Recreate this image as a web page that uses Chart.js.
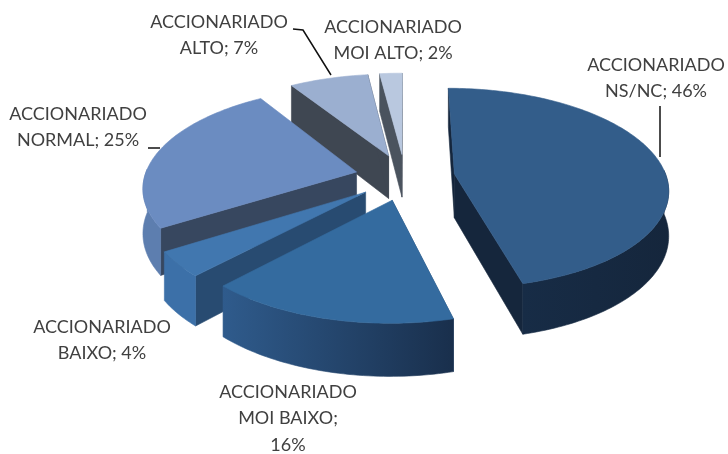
<!DOCTYPE html>
<html><head><meta charset="utf-8">
<style>html,body{margin:0;padding:0;background:#fff}#w{width:728px;height:454px}</style>
<script src="https://cdn.jsdelivr.net/npm/chart.js@4"></script>
</head><body><div id="w"><canvas id="c" width="728" height="454"></canvas></div>
<script>
const categories = ['ACCIONARIADO NS/NC','ACCIONARIADO MOI BAIXO','ACCIONARIADO BAIXO','ACCIONARIADO NORMAL','ACCIONARIADO ALTO','ACCIONARIADO MOI ALTO'];
const percentValues = [46,16,4,25,7,2];
const topColors = ['#335d8a','#346b9f','#4177af','#6b8cc1','#9bafd0','#b9c8df'];
const innerWallColors = ['#15263c','#2a4d73','#284b71','#37475f','#3f4752','#4a535e'];
const outerWallLeft = ['#172c46','#2f5b8c','#3c70a8','#5d7eaf','#7d92b0','#8ea0ba'];
const outerWallRight = ['#15263c','#192f4c','#3c70a8','#5d7eaf','#7d92b0','#8ea0ba'];
const labelLines = [['ACCIONARIADO','NS/NC; 46%'],['ACCIONARIADO','MOI BAIXO;','16%'],['ACCIONARIADO','BAIXO; 4%'],['ACCIONARIADO','NORMAL; 25%'],['ACCIONARIADO','ALTO; 7%'],['ACCIONARIADO','MOI ALTO; 2%']];
const labelCenters = [[656,65],[288,392],[102,327],[78,114],[219,22],[393,27]];
const labelRowHeight = 26.5;
const leaders = [[[660,106],[660,157]],null,null,[[148,148],[160,148]],[[293,29],[303,30],[331,75]],null];

const K = 0.465, P = 0.14, DEPTH = 44;
function project(cx, cy, x, y, h) {
  const s = 1 / (1 - P * y / 212);
  return [cx + x * s, cy + y * K * s + h * s];
}
function fillPoly(ctx, pts, col) {
  ctx.fillStyle = col; ctx.strokeStyle = col; ctx.lineWidth = 0.6;
  ctx.beginPath(); pts.forEach((p,i)=> i ? ctx.lineTo(p[0],p[1]) : ctx.moveTo(p[0],p[1]));
  ctx.closePath(); ctx.fill(); ctx.stroke();
}
const pie3d = {
  id: 'pie3d',
  beforeDatasetsDraw(chart) {
    const ctx = chart.ctx, meta = chart.getDatasetMeta(0);
    const items = meta.data.map((arc, i) => {
      const p = arc.getProps(['x','y','startAngle','endAngle','outerRadius']);
      const mid = (p.startAngle + p.endAngle) / 2, off = arc.options.offset;
      return {i, p, ax: Math.cos(mid)*off, ay: Math.sin(mid)*off};
    }).sort((a,b) => a.ay - b.ay);
    ctx.save();
    for (const it of items) {
      const {i, p, ax, ay} = it, R = p.outerRadius;
      const P2 = (x,y,h) => project(p.x, p.y, x, y, h);
      const rim = [], frontRim = [];
      const n = Math.max(4, Math.ceil((p.endAngle - p.startAngle) / 0.02));
      for (let j = 0; j <= n; j++) {
        const a = p.startAngle + (p.endAngle - p.startAngle) * j / n;
        const pt = [ax + Math.cos(a)*R, ay + Math.sin(a)*R];
        rim.push(pt);
        if (Math.sin(a) > -0.05) frontRim.push(pt);
      }
      const apex = [ax, ay];
      // straight cut walls that face the viewer
      [[rim[0], Math.sin(p.startAngle - Math.PI/2)], [rim[n], Math.sin(p.endAngle + Math.PI/2)]].forEach(([end, nrm]) => {
        if (nrm > -0.35) fillPoly(ctx, [P2(apex[0],apex[1],0),P2(end[0],end[1],0),P2(end[0],end[1],DEPTH),P2(apex[0],apex[1],DEPTH)], innerWallColors[i]);
      });
      // outer wall: only the part of the rim that faces the viewer
      if (frontRim.length > 1) {
        const wall = frontRim.map(r => P2(r[0],r[1],0)).concat(frontRim.slice().reverse().map(r => P2(r[0],r[1],DEPTH)));
        const xs = wall.map(w => w[0]);
        const g = ctx.createLinearGradient(Math.min(...xs),0,Math.max(...xs),0);
        g.addColorStop(0, outerWallLeft[i]); g.addColorStop(1, outerWallRight[i]);
        fillPoly(ctx, wall, g);
      }
      // top face
      fillPoly(ctx, [P2(apex[0],apex[1],0)].concat(rim.map(r => P2(r[0],r[1],0))), topColors[i]);
    }
    ctx.restore();
    return false;
  },
  afterDraw(chart) {
    const ctx = chart.ctx;
    ctx.save();
    ctx.strokeStyle = '#111'; ctx.lineWidth = 1.5;
    leaders.forEach(l => {
      if (!l) return;
      ctx.beginPath(); l.forEach((pt,i)=> i ? ctx.lineTo(pt[0],pt[1]) : ctx.moveTo(pt[0],pt[1])); ctx.stroke();
    });
    ctx.fillStyle = '#404040';
    ctx.font = '18px Lato';
    ctx.textAlign = 'center'; ctx.textBaseline = 'middle';
    labelLines.forEach((ls,i) => ls.forEach((t,j) => ctx.fillText(t, labelCenters[i][0], labelCenters[i][1] + j * labelRowHeight)));
    ctx.restore();
  }
};
new Chart(document.getElementById('c'), {
  type: 'pie',
  data: { labels: categories, datasets: [{ data: percentValues, backgroundColor: topColors, borderWidth: 0, offset: 50 }] },
  options: {
    responsive: false, animation: false, radius: 212,
    layout: { padding: { left: 82, bottom: 100 } },
    plugins: { legend: { display: false }, tooltip: { enabled: false } }
  },
  plugins: [pie3d]
});
</script></body></html>
